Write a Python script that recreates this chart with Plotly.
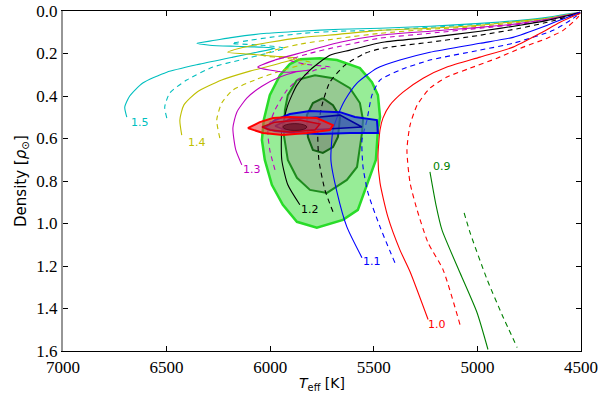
import plotly.graph_objects as go

# ---------------- evolutionary tracks (Teff [K], density [rho_sun]) ----------------
t15_T = [6692, 6702, 6678, 6615, 6499, 6340, 6180, 6064, 5977, 6040, 6171, 6292, 6354, 6267, 6180, 6016, 5857, 5663, 5470, 5229, 4987, 4794, 4663, 4577, 4504]
t15_r = [0.499, 0.452, 0.400, 0.339, 0.288, 0.250, 0.217, 0.194, 0.175, 0.170, 0.166, 0.161, 0.152, 0.138, 0.124, 0.105, 0.095, 0.086, 0.081, 0.072, 0.058, 0.044, 0.030, 0.016, 0.006]
d15_T = [6499, 6509, 6485, 6403, 6277, 6147, 6016, 5929, 6040, 6185, 6098, 6002, 5842, 5663, 5470, 5229, 4987, 4794, 4663, 4504]
d15_r = [0.504, 0.452, 0.386, 0.325, 0.264, 0.231, 0.199, 0.175, 0.161, 0.152, 0.138, 0.124, 0.105, 0.095, 0.091, 0.077, 0.062, 0.048, 0.034, 0.011]

t14_T = [6427, 6436, 6417, 6354, 6234, 6098, 5953, 5871, 5977, 6098, 6205, 6147, 6002, 5842, 5663, 5470, 5229, 4987, 4794, 4663, 4504]
t14_r = [0.584, 0.513, 0.443, 0.382, 0.325, 0.283, 0.246, 0.222, 0.213, 0.203, 0.194, 0.175, 0.147, 0.124, 0.109, 0.091, 0.081, 0.067, 0.048, 0.034, 0.006]
d14_T = [6243, 6258, 6234, 6180, 6064, 5953, 5857, 5808, 5929, 6040, 5977, 5857, 5663, 5470, 5229, 4987, 4794, 4663, 4504]
d14_r = [0.598, 0.513, 0.433, 0.372, 0.321, 0.283, 0.255, 0.241, 0.222, 0.208, 0.184, 0.156, 0.128, 0.105, 0.086, 0.072, 0.053, 0.039, 0.011]

t13_T = [6137, 6166, 6180, 6161, 6113, 6040, 5953, 5881, 5808, 5929, 6060, 5977, 5842, 5663, 5470, 5229, 4987, 4794, 4663, 4504]
t13_r = [0.724, 0.654, 0.551, 0.476, 0.410, 0.354, 0.311, 0.288, 0.278, 0.288, 0.264, 0.231, 0.194, 0.147, 0.114, 0.095, 0.077, 0.058, 0.039, 0.006]
d13_T = [5977, 6002, 6011, 5977, 5919, 5857, 5784, 5712, 5833, 5905, 5808, 5663, 5470, 5229, 4987, 4794, 4663, 4504]
d13_r = [0.748, 0.654, 0.560, 0.466, 0.372, 0.316, 0.278, 0.264, 0.250, 0.231, 0.199, 0.166, 0.128, 0.105, 0.081, 0.062, 0.044, 0.011]

t12_T = [5857, 5915, 5944, 5944, 5915, 5871, 5808, 5712, 5615, 5456, 5229, 4987, 4794, 4663, 4577, 4504]
t12_r = [0.912, 0.818, 0.701, 0.560, 0.443, 0.349, 0.278, 0.208, 0.184, 0.147, 0.124, 0.095, 0.067, 0.044, 0.025, 0.006]
d12_T = [5697, 5736, 5765, 5770, 5750, 5712, 5639, 5543, 5456, 5229, 4987, 4794, 4663, 4504]
d12_r = [0.945, 0.842, 0.701, 0.560, 0.443, 0.335, 0.255, 0.199, 0.175, 0.147, 0.114, 0.081, 0.053, 0.011]

t11_T = [5557, 5630, 5678, 5707, 5697, 5673, 5639, 5581, 5485, 5374, 5229, 4987, 4828, 4663, 4577, 4504]
t11_r = [1.161, 1.016, 0.851, 0.701, 0.560, 0.490, 0.419, 0.339, 0.269, 0.231, 0.194, 0.152, 0.124, 0.067, 0.034, 0.006]
d11_T = [5398, 5470, 5528, 5552, 5557, 5533, 5509, 5470, 5374, 5229, 4987, 4828, 4634, 4552, 4504]
d11_r = [1.185, 1.016, 0.856, 0.734, 0.607, 0.513, 0.396, 0.325, 0.278, 0.231, 0.184, 0.152, 0.091, 0.044, 0.011]

t10_T = [5238, 5325, 5374, 5432, 5470, 5480, 5470, 5456, 5422, 5359, 5262, 5147, 4987, 4828, 4697, 4601, 4504]
t10_r = [1.452, 1.227, 1.124, 0.969, 0.809, 0.687, 0.560, 0.504, 0.443, 0.382, 0.316, 0.264, 0.217, 0.170, 0.105, 0.053, 0.011]
d10_T = [5084, 5166, 5238, 5291, 5325, 5340, 5325, 5291, 5229, 5147, 5035, 4905, 4779, 4663, 4586, 4519, 4504]
d10_r = [1.476, 1.217, 1.091, 0.936, 0.809, 0.654, 0.537, 0.443, 0.363, 0.311, 0.269, 0.222, 0.170, 0.128, 0.091, 0.034, 0.016]

t09_T = [5229, 5200, 5171, 5084, 5002, 4949]
t09_r = [0.757, 0.912, 1.030, 1.232, 1.419, 1.593]
d09_T = [5064, 5035, 4953, 4881, 4808]
d09_r = [0.950, 1.044, 1.264, 1.429, 1.584]

mass_labels = ["1.5", "1.4", "1.3", "1.2", "1.1", "1.0", "0.9"]
label_T = [6630, 6354, 6090, 5808, 5509, 5195, 5171]
label_r = [0.527, 0.617, 0.748, 0.936, 1.180, 1.476, 0.734]

# ---------------- confidence contours ----------------
g1_T = [5857, 5760, 5678, 5567, 5509, 5480, 5470, 5480, 5490, 5543, 5577, 5649, 5775, 5871, 5939, 5992, 6026, 6040, 6031, 6002, 5953, 5905]
g1_r = [0.227, 0.222, 0.231, 0.269, 0.335, 0.396, 0.499, 0.560, 0.701, 0.842, 0.936, 0.983, 1.020, 0.992, 0.912, 0.818, 0.701, 0.607, 0.513, 0.396, 0.302, 0.250]
g2_T = [5871, 5784, 5697, 5615, 5567, 5552, 5557, 5581, 5630, 5726, 5808, 5871, 5915, 5934, 5929, 5915]
g2_r = [0.325, 0.302, 0.316, 0.363, 0.433, 0.513, 0.574, 0.734, 0.795, 0.856, 0.842, 0.785, 0.701, 0.584, 0.466, 0.396]
g3_T = [5746, 5697, 5663, 5673, 5697, 5746, 5794, 5818, 5823, 5794]
g3_r = [0.410, 0.443, 0.499, 0.593, 0.640, 0.668, 0.654, 0.593, 0.490, 0.433]

b1_T = [6026, 5977, 5905, 5808, 5663, 5591, 5485, 5480, 5615, 5760, 5881, 5977]
b1_r = [0.551, 0.513, 0.485, 0.471, 0.476, 0.499, 0.513, 0.574, 0.574, 0.579, 0.574, 0.565]
b2_T = [5977, 5905, 5760, 5663, 5557, 5663, 5808, 5929]
b2_r = [0.541, 0.508, 0.499, 0.490, 0.546, 0.551, 0.560, 0.560]

r1_T = [6108, 6050, 5987, 5905, 5775, 5697, 5712, 5823, 5939, 6035]
r1_r = [0.551, 0.523, 0.504, 0.499, 0.504, 0.537, 0.560, 0.574, 0.584, 0.574]
r2_T = [6040, 5977, 5857, 5760, 5784, 5905, 6002]
r2_r = [0.546, 0.523, 0.513, 0.532, 0.560, 0.570, 0.560]
core_T = [5823, 5939]
core_r = [0.530, 0.562]

fig = go.Figure()


def poly(T, r, fill, edge, w):
    fig.add_trace(go.Scatter(x=T + T[:1], y=r + r[:1], mode="lines", fill="toself",
                             fillcolor=fill, line=dict(color=edge, width=w),
                             hoverinfo="skip", showlegend=False))


# green (filled) contours
poly(g1_T, g1_r, "rgba(140,235,140,0.9)", "rgb(40,220,40)", 2.5)
poly(g2_T, g2_r, "rgba(150,150,140,0.40)", "rgb(30,140,30)", 2)
poly(g3_T, g3_r, "rgba(100,110,100,0.40)", "rgb(20,100,20)", 2)

# tracks
tracks = [
    (t15_T, t15_r, d15_T, d15_r, "rgb(0,191,191)"),
    (t14_T, t14_r, d14_T, d14_r, "rgb(191,191,0)"),
    (t13_T, t13_r, d13_T, d13_r, "rgb(191,0,191)"),
    (t12_T, t12_r, d12_T, d12_r, "black"),
    (t11_T, t11_r, d11_T, d11_r, "rgb(0,0,255)"),
    (t10_T, t10_r, d10_T, d10_r, "rgb(255,0,0)"),
    (t09_T, t09_r, d09_T, d09_r, "rgb(0,128,0)"),
]
for sT, sr, dT, dr, col in tracks:
    fig.add_trace(go.Scatter(x=sT, y=sr, mode="lines", line=dict(color=col, width=1.1, shape="spline", smoothing=0.6),
                             hoverinfo="skip", showlegend=False))
    fig.add_trace(go.Scatter(x=dT, y=dr, mode="lines",
                             line=dict(color=col, width=1.1, dash="5px,4px", shape="spline", smoothing=0.6),
                             hoverinfo="skip", showlegend=False))

# blue and red contours
poly(b1_T, b1_r, "rgba(60,100,200,0.65)", "rgb(0,0,230)", 2)
poly(b2_T, b2_r, "rgba(40,60,160,0.35)", "rgb(0,0,160)", 1.5)
poly(r1_T, r1_r, "rgba(230,60,60,0.6)", "rgb(255,0,0)", 2)
poly(r2_T, r2_r, "rgba(170,40,60,0.4)", "rgb(200,0,20)", 1.5)
fig.add_shape(type="circle", xref="x", yref="y", x0=core_T[0], x1=core_T[1], y0=core_r[0], y1=core_r[1],
              fillcolor="rgb(120,30,50)", line=dict(color="rgb(90,10,30)", width=1))

label_cols = ["rgb(0,191,191)", "rgb(191,191,0)", "rgb(191,0,191)", "black",
              "rgb(0,0,255)", "rgb(255,0,0)", "rgb(0,128,0)"]
for lab, lx, ly, c in zip(mass_labels, label_T, label_r, label_cols):
    fig.add_annotation(x=lx, y=ly, text=lab, showarrow=False,
                       font=dict(family="DejaVu Sans", size=11, color=c))

tickfont = dict(family="Liberation Serif", size=17, color="black")
fig.update_layout(
    template="none",
    width=600, height=396,
    margin=dict(l=63, r=19, t=11, b=45),
    paper_bgcolor="white", plot_bgcolor="white",
    showlegend=False,
    xaxis=dict(range=[7000, 4500], tickvals=[7000, 6500, 6000, 5500, 5000, 4500],
               automargin=False,
               ticks="inside", ticklen=5, tickcolor="black", showgrid=False, zeroline=False,
               showline=True, linecolor="black", linewidth=1.2, mirror="ticks",
               tickfont=tickfont,
               title=dict(text="<i>T</i><sub>eff</sub> [K]", standoff=2,
                          font=dict(family="DejaVu Sans", size=14, color="black"))),
    yaxis=dict(range=[1.6, 0.0], tickvals=[0, 0.2, 0.4, 0.6, 0.8, 1.0, 1.2, 1.4, 1.6],
               automargin=False,
               tickformat=".1f", ticks="inside", ticklen=5, tickcolor="black",
               showgrid=False, zeroline=False, showline=True, linecolor="rgb(150,150,150)",
               linewidth=2, tickfont=tickfont,
               title=dict(text="Density [<i>ρ</i><sub>⊙</sub>]", standoff=6,
                          font=dict(family="DejaVu Sans", size=15, color="black"))),
    yaxis2=dict(range=[1.6, 0.0], overlaying="y", side="right", matches="y", automargin=False,
                tickvals=[0, 0.2, 0.4, 0.6, 0.8, 1.0, 1.2, 1.4, 1.6], showticklabels=False,
                ticks="inside", ticklen=5, tickcolor="black", showgrid=False, zeroline=False,
                showline=True, linecolor="black", linewidth=1.2),
)
fig.add_trace(go.Scatter(x=[5000], y=[0.8], yaxis="y2", mode="markers",
                         marker=dict(opacity=0), hoverinfo="skip", showlegend=False))

fig.write_html("out.html", config={"displayModeBar": False},
               post_script="document.body.style.margin='0px';document.body.style.padding='0px';")
